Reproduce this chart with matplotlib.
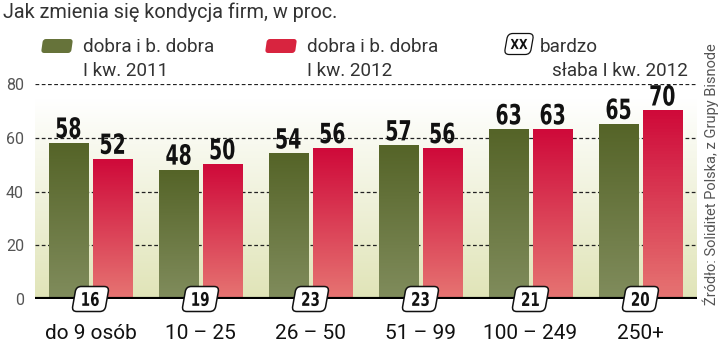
import numpy as np
import matplotlib
matplotlib.use("Agg")
import matplotlib.pyplot as plt
from matplotlib.patches import FancyBboxPatch, PathPatch
from matplotlib.textpath import TextPath
from matplotlib.font_manager import FontProperties
import matplotlib.transforms as mtransforms

# Data
groups = ['do 9 osób', '10 – 25', '26 – 50', '51 – 99', '100 – 249', '250+']
good_2011 = [58, 48, 54, 57, 63, 65]
good_2012 = [52, 50, 56, 56, 63, 70]
very_bad_2012 = [16, 19, 23, 23, 21, 20]
yticks = [0, 20, 40, 60, 80]

plt.rcParams['font.family'] = ['Roboto', 'DejaVu Sans']
bold_prop = FontProperties(family='DejaVu Sans', weight='bold')

fig = plt.figure(figsize=(7.2, 3.44), dpi=100)
ax = fig.add_axes([35 / 720, 45 / 344, 662 / 720, 215 / 344])
px = fig.dpi / 72.0

x = np.arange(len(groups))
barWidth = 0.355
off = 0.2
xlim = (-0.5045, 5.514)

# pale background gradient behind the bars
t = np.linspace(0, 1, 100).reshape(-1, 1)
bg_rgb = np.array([1.0, 1.0, 1.0]) * (1 - t) + np.array([0.88, 0.895, 0.72]) * t
ax.imshow(bg_rgb.reshape(100, 1, 3), extent=[xlim[0], xlim[1], 0, 74.5],
          aspect='auto', zorder=0)

green_top = np.array([0x55, 0x64, 0x28]) / 255
green_bot = np.array([0x80, 0x8c, 0x5c]) / 255
red_top = np.array([0xcf, 0x0a, 0x3a]) / 255
red_bot = np.array([0xe6, 0x74, 0x72]) / 255


def grad_bar(xc, h, top, bottom):
    s = np.linspace(0, 1, 60).reshape(-1, 1)
    c = np.array(top) * (1 - s) + np.array(bottom) * s
    ax.imshow(c.reshape(60, 1, 3), extent=[xc - barWidth / 2, xc + barWidth / 2, 0, h],
              aspect='auto', zorder=3)


def narrow_text(xd, yd, s, size, trans, va='bottom', sx=0.7, lift=0, zorder=6):
    # bold condensed look: squeeze a text path horizontally
    tp = TextPath((0, 0), s, size=size, prop=bold_prop)
    bb = tp.get_extents()
    dy = -bb.y0 if va == 'bottom' else -(bb.y0 + bb.y1) / 2
    tr = (mtransforms.Affine2D().translate(-(bb.x0 + bb.x1) / 2, dy).scale(sx * px, px)
          .translate(0, lift) + mtransforms.ScaledTranslation(xd, yd, trans))
    p = PathPatch(tp, transform=tr, fc='#111111', ec='none', zorder=zorder, clip_on=False)
    fig.patches.append(p) if trans is fig.transFigure else ax.add_artist(p)


def slant_box(xd, yd, w, h, trans, zorder=5, lw=1.1):
    tr = (mtransforms.Affine2D().skew_deg(10, 0)
          + mtransforms.ScaledTranslation(xd, yd, trans))
    p = FancyBboxPatch((-w / 2, -h / 2), w, h, boxstyle='round,pad=0,rounding_size=5',
                       transform=tr, fc='white', ec='#111111', lw=lw, zorder=zorder,
                       clip_on=False)
    fig.patches.append(p) if trans is fig.transFigure else ax.add_artist(p)


for i in range(len(groups)):
    grad_bar(x[i] - off, good_2011[i], green_top, green_bot)
    grad_bar(x[i] + off, good_2012[i], red_top, red_bot)
    narrow_text(x[i] - off, good_2011[i], str(good_2011[i]), 20, ax.transData, sx=0.68, lift=5)
    narrow_text(x[i] + off, good_2012[i], str(good_2012[i]), 20, ax.transData, sx=0.68, lift=5)

# gridlines
for yv in yticks[1:]:
    ax.axhline(yv, color='#222222', lw=0.9, ls=(0, (3, 2)), zorder=1)
ax.axhline(0, color='black', lw=3, zorder=4)

# count boxes and category labels
for i in range(len(groups)):
    slant_box(x[i], 0, 33, 25, ax.transData)
    narrow_text(x[i], 0, str(very_bad_2012[i]), 13.5, ax.transData, va='center', sx=0.72)
trans = mtransforms.blended_transform_factory(ax.transData, fig.transFigure)
for i in range(len(groups)):
    ax.text(x[i], 5 / 344, groups[i], ha='center', va='baseline', fontsize=15,
            color='#111111', transform=trans, clip_on=False)

ax.set_xlim(*xlim)
ax.set_ylim(0, 80)
ax.set_yticks(yticks)
ax.set_yticklabels([str(v) for v in yticks], fontsize=11.5, color='#555555')
ax.tick_params(axis='y', length=0, pad=8)
ax.set_xticks([])
for s in ax.spines.values():
    s.set_visible(False)
ax.patch.set_alpha(0)

# title and legend
fig.text(3 / 720, 1 - 2 / 344, 'Jak zmienia się kondycja firm, w proc.', ha='left', va='top',
         fontsize=14.3, color='#333333')


def swatch(x0, color):
    tr = (mtransforms.Affine2D().skew_deg(8, 0)
          + mtransforms.ScaledTranslation(x0 / 720, 1 - 46 / 344, fig.transFigure))
    p = FancyBboxPatch((0, -7), 30, 14, boxstyle='round,pad=0,rounding_size=3',
                       transform=tr, fc=color, ec='none', clip_on=False)
    fig.patches.append(p)


swatch(42, '#66733a')
swatch(266, '#d8243f')
for xt, lines in [(83, ('dobra i b. dobra', 'I kw. 2011')), (307, ('dobra i b. dobra', 'I kw. 2012'))]:
    fig.text(xt / 720, 1 - 52 / 344, lines[0], ha='left', va='baseline', fontsize=13.6,
             color='#333333')
    fig.text(xt / 720, 1 - 76 / 344, lines[1], ha='left', va='baseline', fontsize=13.6,
             color='#333333')

slant_box(519 / 720, 1 - 44 / 344, 26, 21, fig.transFigure, lw=0.9)
narrow_text(519 / 720, 1 - 44 / 344, 'XX', 10, fig.transFigure, va='center', sx=0.8)
fig.text(540 / 720, 1 - 52 / 344, 'bardzo', ha='left', va='baseline', fontsize=13.6,
         color='#333333')
fig.text(688 / 720, 1 - 76 / 344, 'słaba I kw. 2012', ha='right', va='baseline', fontsize=13.6,
         color='#333333')

fig.text(711 / 720, 1 - 305 / 344, 'Źródło: Soliditet Polska, z Grupy Bisnode', rotation=90,
         ha='center', va='bottom', fontsize=10.5, color='#555555')

fig.savefig('out.png', dpi=100)
